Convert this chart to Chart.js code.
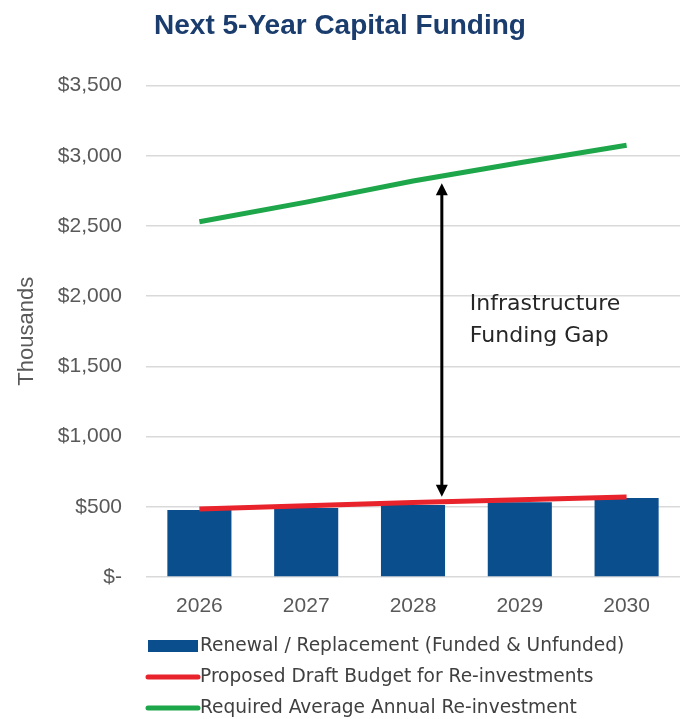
<!DOCTYPE html>
<html>
<head>
<meta charset="utf-8">
<title>Next 5-Year Capital Funding</title>
<script src="https://cdn.jsdelivr.net/npm/chart.js@4.4.1/dist/chart.umd.min.js"></script>
<style>
  html, body { margin: 0; padding: 0; background: #ffffff; }
  #wrap { width: 681px; height: 719px; position: relative; }
</style>
</head>
<body>
<div id="wrap"><canvas id="fundingChart" width="681" height="719"></canvas></div>
<script>
// chart data (thousands of dollars)
const years = ['2026', '2027', '2028', '2029', '2030'];
const renewalValues = [477, 491, 512, 533, 562];
const draftBudgetValues = [485, 508, 530, 550, 570];
const requiredValues = [2530, 2670, 2820, 2950, 3075];
const yTicks = [0, 500, 1000, 1500, 2000, 2500, 3000, 3500];

// where the gap arrow sits, as a fractional category index
const gapIndex = 2.27;

function moneyLabel(v) {
    if (v === 0) return '$-';
    return '$' + v.toLocaleString('en-US');
}

function lerpAt(values, idx) {
    const i = Math.floor(idx);
    const f = idx - i;
    return values[i] + (values[i + 1] - values[i]) * f;
}

// vertical double arrow + annotation text
const gapArrow = {
    id: 'gapArrow',
    afterDatasetsDraw(chart) {
        const ctx = chart.ctx;
        const x = chart.scales.x.getPixelForValue(gapIndex);
        const y = chart.scales.y;
        const top = y.getPixelForValue(lerpAt(requiredValues, gapIndex)) + 7;
        const bottom = y.getPixelForValue(lerpAt(draftBudgetValues, gapIndex)) - 5;
        const head = 12;
        ctx.save();
        ctx.strokeStyle = '#000';
        ctx.fillStyle = '#000';
        ctx.lineWidth = 3;
        ctx.beginPath();
        ctx.moveTo(x, top + head - 2);
        ctx.lineTo(x, bottom - head + 2);
        ctx.stroke();
        ctx.beginPath();
        ctx.moveTo(x, top);
        ctx.lineTo(x - 6, top + head);
        ctx.lineTo(x + 6, top + head);
        ctx.closePath();
        ctx.fill();
        ctx.beginPath();
        ctx.moveTo(x, bottom);
        ctx.lineTo(x - 6, bottom - head);
        ctx.lineTo(x + 6, bottom - head);
        ctx.closePath();
        ctx.fill();

        ctx.fillStyle = '#262626';
        ctx.font = '22px "DejaVu Sans"';
        ctx.textAlign = 'left';
        ctx.textBaseline = 'middle';
        const tx = x + 28;
        const ty = y.getPixelForValue(1940);
        ctx.fillText('Infrastructure', tx, ty);
        ctx.fillText('Funding Gap', tx, ty + 32);
        ctx.restore();
    }
};

// left-aligned stacked legend under the plot
const stackedLegend = {
    id: 'stackedLegend',
    afterDraw(chart) {
        const ctx = chart.ctx;
        const left = 148;
        const rows = [646, 677, 708];
        ctx.save();
        ctx.font = '18.6px "DejaVu Sans"';
        ctx.textBaseline = 'middle';
        ctx.textAlign = 'left';
        chart.data.datasets.forEach((ds, i) => {
            const yy = rows[i];
            if (ds.type === 'bar') {
                ctx.fillStyle = ds.backgroundColor;
                ctx.fillRect(left, yy - 6, 50, 12);
            } else {
                ctx.strokeStyle = ds.borderColor;
                ctx.lineWidth = 5;
                ctx.lineCap = 'round';
                ctx.beginPath();
                ctx.moveTo(left, yy);
                ctx.lineTo(left + 50, yy);
                ctx.stroke();
            }
            ctx.fillStyle = '#404040';
            ctx.fillText(ds.label, left + 52, yy);
        });
        ctx.restore();
    }
};

const ctx = document.getElementById('fundingChart').getContext('2d');
new Chart(ctx, {
    data: {
        labels: years,
        datasets: [
            {
                type: 'bar',
                label: 'Renewal / Replacement (Funded & Unfunded)',
                data: renewalValues,
                backgroundColor: '#0a4e8e',
                categoryPercentage: 0.6,
                barPercentage: 1,
                order: 3
            },
            {
                type: 'line',
                label: 'Proposed Draft Budget for Re-investments',
                data: draftBudgetValues,
                borderColor: '#e8232b',
                borderWidth: 5,
                pointRadius: 0,
                tension: 0,
                order: 2
            },
            {
                type: 'line',
                label: 'Required Average Annual Re-investment',
                data: requiredValues,
                borderColor: '#1ea64b',
                borderWidth: 5,
                pointRadius: 0,
                tension: 0,
                order: 1
            }
        ]
    },
    options: {
        responsive: false,
        animation: false,
        layout: { padding: { left: 0, right: 1, top: 0, bottom: 100 } },
        plugins: {
            legend: { display: false },
            tooltip: { enabled: false },
            title: {
                display: true,
                text: 'Next 5-Year Capital Funding',
                color: '#1a3d6e',
                font: { family: 'Liberation Sans', size: 28, weight: 'bold' },
                padding: { top: 9, bottom: 43 }
            }
        },
        scales: {
            x: {
                grid: { display: false },
                border: { display: false },
                ticks: {
                    color: '#595959',
                    font: { family: 'Liberation Sans', size: 21 },
                    padding: 9
                },
                afterFit(scale) { scale.height = 42; }
            },
            y: {
                min: 0,
                max: 3500,
                border: { display: false },
                grid: { color: '#d9d9d9', lineWidth: 1.5, drawTicks: false },
                afterBuildTicks(scale) {
                    scale.ticks = yTicks.map(v => ({ value: v }));
                },
                ticks: {
                    color: '#595959',
                    font: { family: 'Liberation Sans', size: 21 },
                    padding: 24,
                    callback: (v) => moneyLabel(v)
                },
                title: {
                    display: true,
                    text: 'Thousands',
                    color: '#595959',
                    font: { family: 'Liberation Sans', size: 22 },
                    padding: { top: 14, bottom: 0 }
                },
                afterFit(scale) { scale.width = 146; }
            }
        }
    },
    plugins: [gapArrow, stackedLegend]
});
</script>
</body>
</html>
